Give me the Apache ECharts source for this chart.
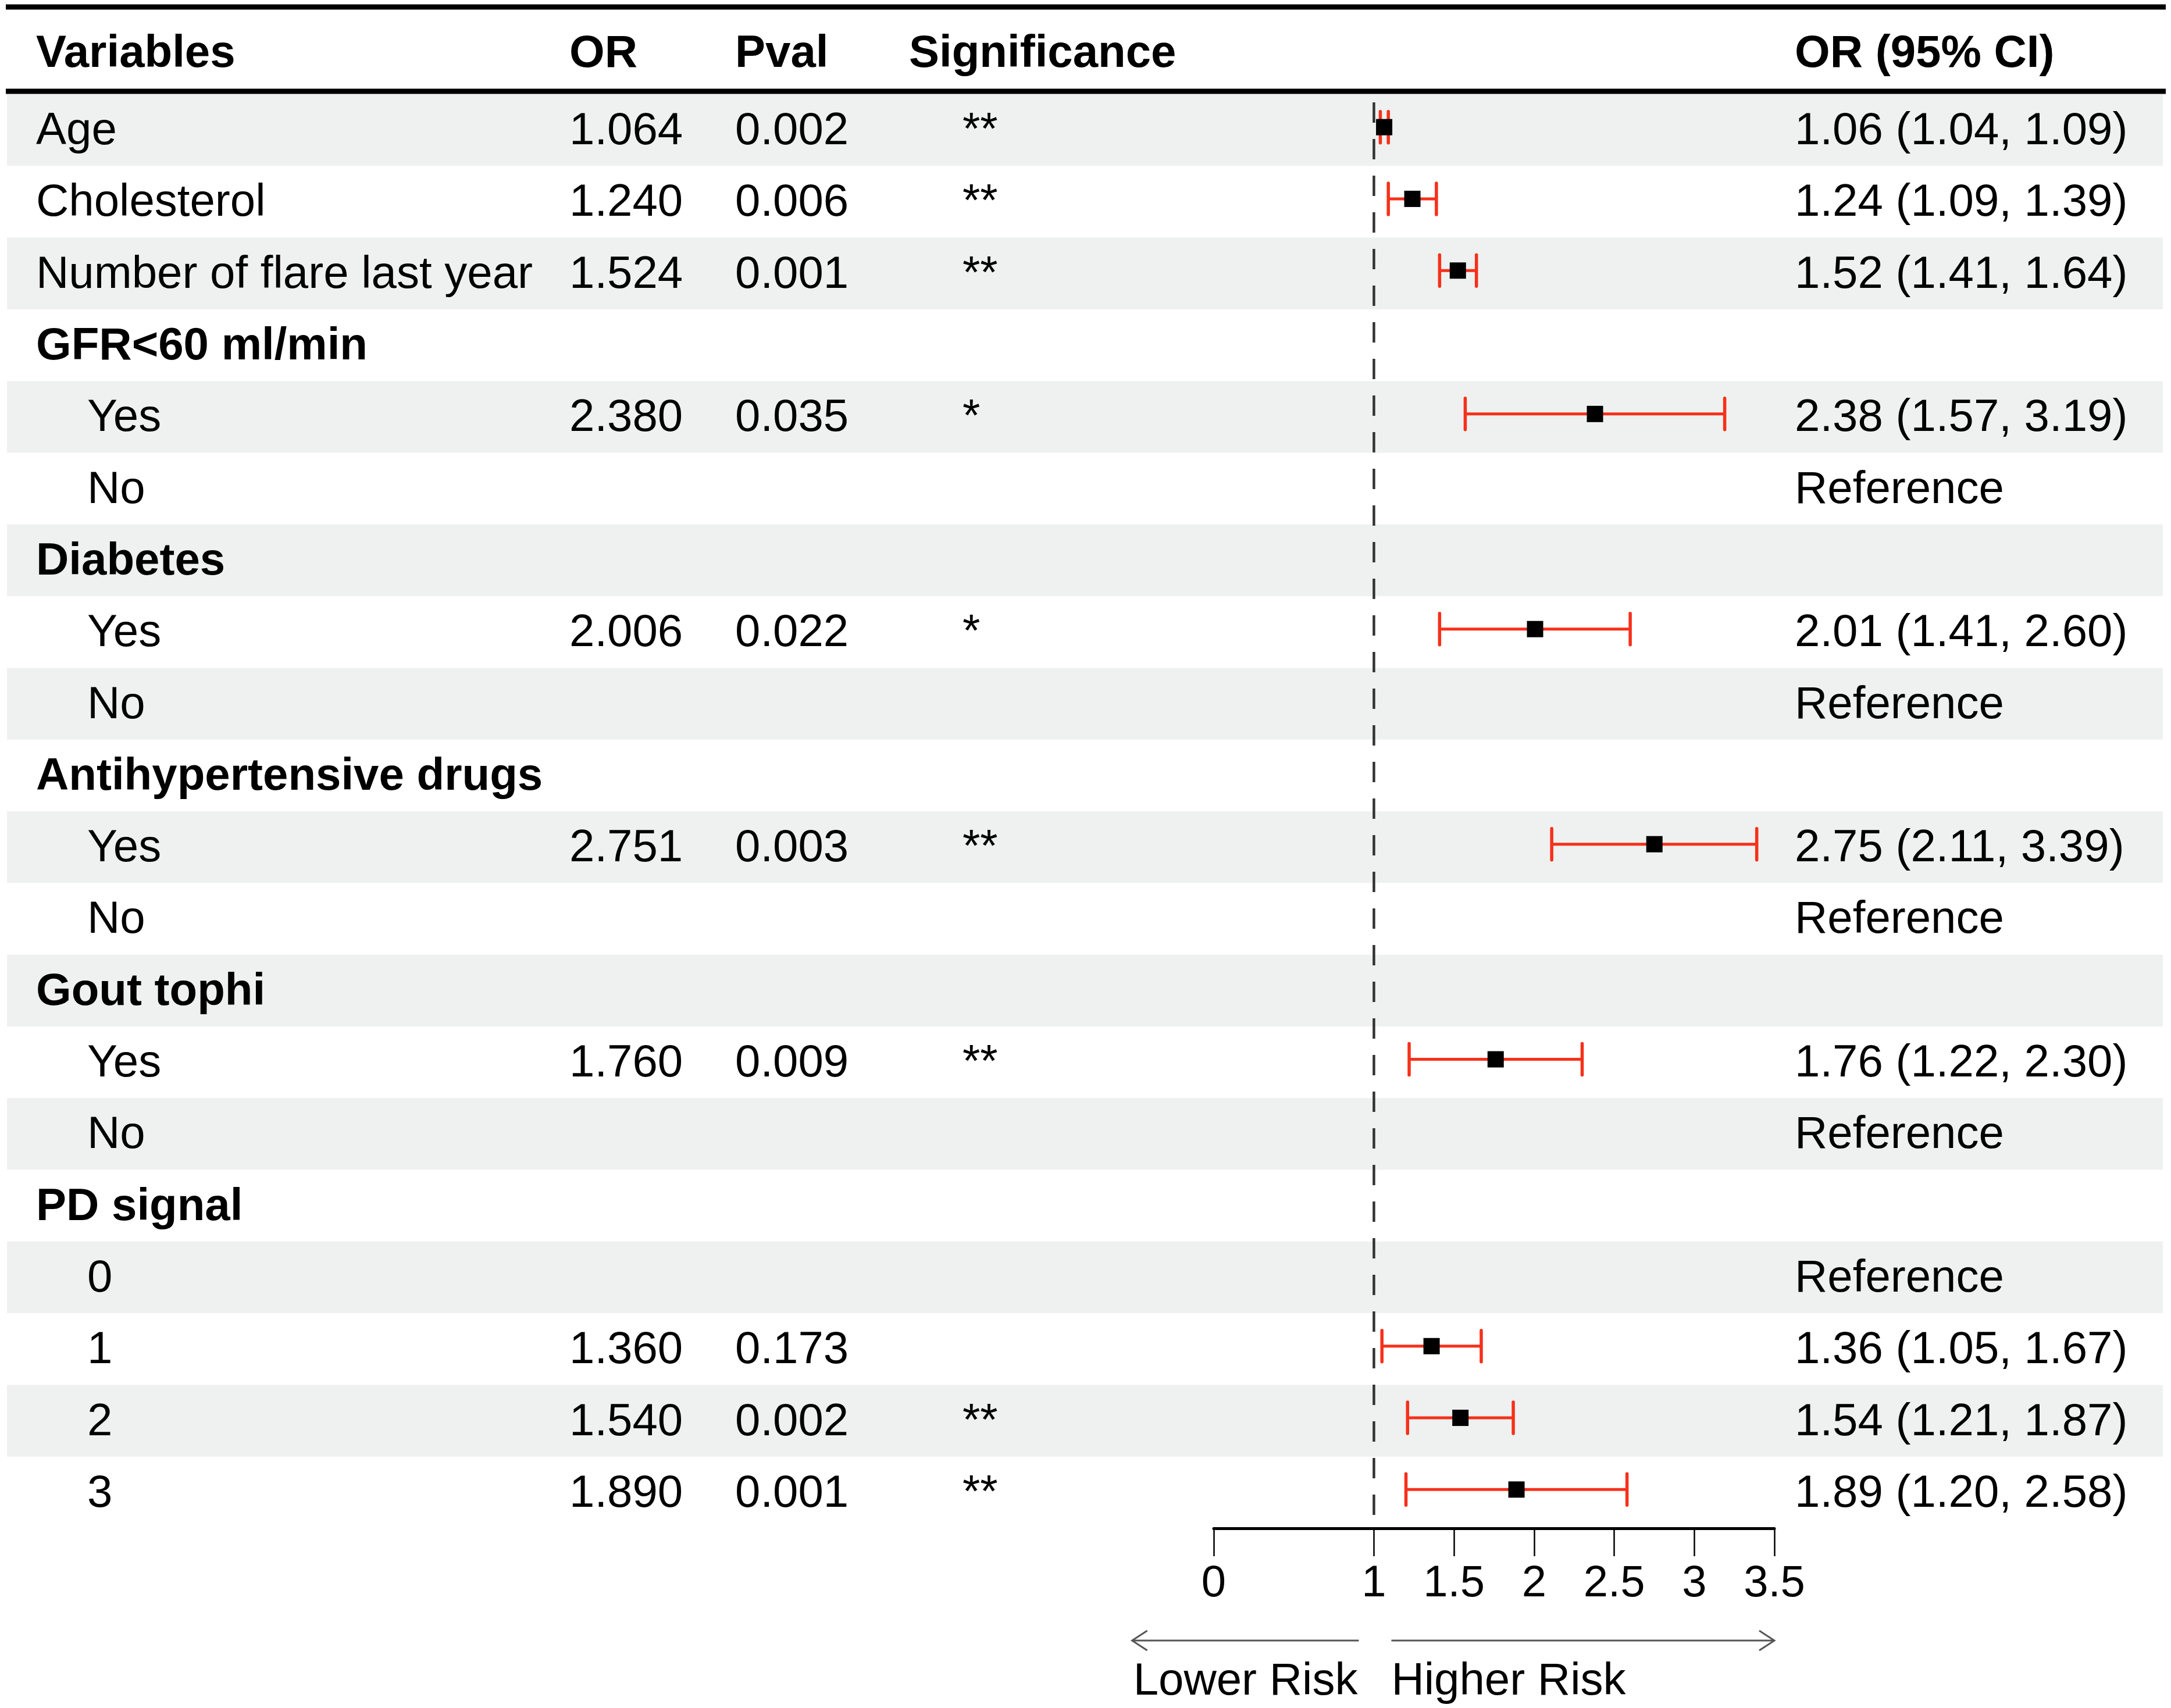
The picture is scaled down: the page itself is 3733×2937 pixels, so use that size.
<!DOCTYPE html>
<html>
<head>
<meta charset="utf-8">
<title>Forest plot</title>
<script src="https://cdn.jsdelivr.net/npm/echarts@6/dist/echarts.min.js"></script>
<style>
  html, body { margin: 0; padding: 0; background: #fff; }
  #chart { width: 3733px; height: 2937px; }
</style>
</head>
<body>
<div id="chart"></div>
<script>
// rows of the table, top to bottom
const rowLabels = ['Age', 'Cholesterol', 'Number of flare last year', 'GFR<60 ml/min', 'Yes', 'No',
  'Diabetes', 'Yes', 'No', 'Antihypertensive drugs', 'Yes', 'No', 'Gout tophi', 'Yes', 'No',
  'PD signal', '0', '1', '2', '3'];
// 0 = single variable, 1 = group title (bold), 2 = level inside a group
const rowLevel = [0, 0, 0, 1, 2, 2, 1, 2, 2, 1, 2, 2, 1, 2, 2, 1, 2, 2, 2, 2];
const orValues = [1.064, 1.240, 1.524, null, 2.380, null, null, 2.006, null, null, 2.751, null,
  null, 1.760, null, null, null, 1.360, 1.540, 1.890];
const pValues = [0.002, 0.006, 0.001, null, 0.035, null, null, 0.022, null, null, 0.003, null,
  null, 0.009, null, null, null, 0.173, 0.002, 0.001];
const significance = ['**', '**', '**', '', '*', '', '', '*', '', '', '**', '', '', '**', '', '',
  '', '', '**', '**'];
const ciLower = [1.04, 1.09, 1.41, null, 1.57, null, null, 1.41, null, null, 2.11, null,
  null, 1.22, null, null, null, 1.05, 1.21, 1.20];
const ciUpper = [1.09, 1.39, 1.64, null, 3.19, null, null, 2.60, null, null, 3.39, null,
  null, 2.30, null, null, null, 1.67, 1.87, 2.58];
const isReference = [false, false, false, false, false, true, false, false, true, false, false, true,
  false, false, true, false, true, false, false, false];

const headerLabels = ['Variables', 'OR', 'Pval', 'Significance', 'OR (95% CI)'];
const xTicks = [0, 1, 1.5, 2, 2.5, 3, 3.5];
const refValue = 1;
const arrowLabels = ['Lower Risk', 'Higher Risk'];

// layout (page pixels)
const FONT = '"Liberation Sans", Arial, Helvetica, sans-serif';
const FS = 78;
const TOP = 162, ROWS_H = 2466;
const TABLE_L = 12, TABLE_R = 3719;
const COL_X = { label: 62, indent: 150, or: 979, pval: 1264, sig: 1655, sigHead: 1563, ci: 3086 };
const FOREST_L = 2087, FOREST_W = 964;
const RED = '#f7301a', SHADE = '#eef1f0';
const TEXT_DY = 3;

const rowIdx = rowLabels.map((_, i) => i);

function ciText(i) {
  if (isReference[i]) return 'Reference';
  if (orValues[i] == null) return '';
  return orValues[i].toFixed(2) + ' (' + ciLower[i].toFixed(2) + ', ' + ciUpper[i].toFixed(2) + ')';
}

function txt(text, x, y, opts) {
  return {
    type: 'text',
    silent: true,
    style: Object.assign({
      text: text, x: x, y: y, fill: '#000', fontSize: FS, fontFamily: FONT,
      align: 'left', verticalAlign: 'middle'
    }, opts || {})
  };
}

// width of a label, for the arrows below the axis
const measureCtx = document.createElement('canvas').getContext('2d');
function textWidth(s) {
  measureCtx.font = FS + 'px ' + FONT;
  return measureCtx.measureText(s).width;
}

const catAxis = (gridIndex) => ({
  type: 'category', gridIndex: gridIndex, data: rowIdx.map(String), inverse: true, show: false
});

const headerX = [COL_X.label, COL_X.or, COL_X.pval, COL_X.sigHead, COL_X.ci];

const option = {
  animation: false,
  backgroundColor: '#fff',
  grid: [
    { left: TABLE_L, width: TABLE_R - TABLE_L, top: TOP, height: ROWS_H, outerBoundsMode: 'none' },
    { left: FOREST_L, width: FOREST_W, top: TOP, height: ROWS_H, outerBoundsMode: 'none' }
  ],
  xAxis: [
    { type: 'value', gridIndex: 0, min: 0, max: 1, show: false },
    {
      type: 'value', gridIndex: 1, min: 0, max: 3.5, interval: 0.5, position: 'bottom',
      axisLine: { show: true, onZero: false, lineStyle: { color: '#000', width: 5 } },
      axisTick: { show: true, customValues: xTicks, length: 48, inside: false, lineStyle: { color: '#000', width: 2.5 } },
      axisLabel: { show: true, customValues: xTicks, margin: 58, color: '#000', fontSize: 76, fontFamily: FONT },
      splitLine: { show: false }
    }
  ],
  yAxis: [catAxis(0), catAxis(1)],
  graphic: [
    { type: 'line', silent: true, shape: { x1: 10, y1: 12, x2: 3724, y2: 12 }, style: { stroke: '#000', lineWidth: 9 } },
    { type: 'line', silent: true, shape: { x1: 10, y1: 157, x2: 3724, y2: 157 }, style: { stroke: '#000', lineWidth: 9 } }
  ].concat(headerLabels.map((t, k) => ({
    type: 'text', silent: true, x: headerX[k], y: 93,
    style: { text: t, fill: '#000', fontSize: FS, fontWeight: 'bold', fontFamily: FONT, align: 'left', verticalAlign: 'middle' }
  }))),
  series: [
    {
      // alternating row shading
      type: 'custom', name: 'bands', xAxisIndex: 0, yAxisIndex: 0, z: 1,
      data: rowIdx.map(i => [0, i]),
      renderItem: function (params, api) {
        const row = api.value(1);
        if (row % 2) return null;
        const a = api.coord([0, row]);
        const b = api.coord([1, row]);
        const h = api.size([0, 1])[1];
        return {
          type: 'rect', silent: true,
          shape: { x: a[0], y: a[1] - h / 2, width: b[0] - a[0], height: h },
          style: { fill: SHADE }
        };
      }
    },
    {
      // table text columns
      type: 'custom', name: 'table', xAxisIndex: 0, yAxisIndex: 0, z: 3,
      data: rowIdx.map(i => [0, i]),
      renderItem: function (params, api) {
        const i = api.value(1);
        const y = api.coord([0, i])[1] + TEXT_DY;
        const kids = [];
        const lx = rowLevel[i] === 2 ? COL_X.indent : COL_X.label;
        kids.push(txt(rowLabels[i], lx, y, rowLevel[i] === 1 ? { fontWeight: 'bold' } : null));
        if (orValues[i] != null) kids.push(txt(orValues[i].toFixed(3), COL_X.or, y));
        if (pValues[i] != null) kids.push(txt(pValues[i].toFixed(3), COL_X.pval, y));
        if (significance[i]) kids.push(txt(significance[i], COL_X.sig, y));
        const ct = ciText(i);
        if (ct) kids.push(txt(ct, COL_X.ci, y));
        return { type: 'group', children: kids };
      }
    },
    {
      // dashed reference line at OR = 1
      type: 'custom', name: 'ref', xAxisIndex: 1, yAxisIndex: 1, z: 2,
      data: [[refValue, 0]],
      renderItem: function (params, api) {
        const h = api.size([0, 1])[1];
        const top = api.coord([api.value(0), 0]);
        const bot = api.coord([api.value(0), rowLabels.length - 1]);
        return {
          type: 'line', silent: true,
          shape: { x1: top[0], y1: top[1] - h / 2 + 14, x2: bot[0], y2: bot[1] + h / 2 - 20 },
          style: { stroke: '#333', lineWidth: 4.5, lineDash: [35, 28] }
        };
      }
    },
    {
      // confidence intervals and point estimates
      type: 'custom', name: 'ci', xAxisIndex: 1, yAxisIndex: 1, z: 4,
      encode: { x: [0, 2, 3], y: 1 },
      data: rowIdx.filter(i => orValues[i] != null).map(i => [orValues[i], i, ciLower[i], ciUpper[i]]),
      renderItem: function (params, api) {
        const row = api.value(1);
        const p = api.coord([api.value(0), row]);
        const lo = api.coord([api.value(2), row]);
        const hi = api.coord([api.value(3), row]);
        const y = p[1] - 5;
        const cap = 27, sq = 28;
        return {
          type: 'group',
          children: [
            { type: 'line', shape: { x1: lo[0], y1: y, x2: hi[0], y2: y }, style: { stroke: RED, lineWidth: 5 } },
            { type: 'line', shape: { x1: lo[0], y1: y - cap, x2: lo[0], y2: y + cap }, style: { stroke: RED, lineWidth: 5.5, lineCap: 'round' } },
            { type: 'line', shape: { x1: hi[0], y1: y - cap, x2: hi[0], y2: y + cap }, style: { stroke: RED, lineWidth: 5.5, lineCap: 'round' } },
            { type: 'rect', shape: { x: p[0] - sq / 2, y: y - sq / 2, width: sq, height: sq }, style: { fill: '#000' } }
          ]
        };
      }
    },
    {
      // direction arrows under the axis
      type: 'custom', name: 'arrows', xAxisIndex: 1, yAxisIndex: 1, z: 3,
      data: [[refValue, rowLabels.length - 1]],
      renderItem: function (params, api) {
        const h = api.size([0, 1])[1];
        const ref = api.coord([api.value(0), api.value(1)]);
        const xMax = api.coord([xTicks[xTicks.length - 1], api.value(1)])[0];
        const bottom = ref[1] + h / 2;
        const yA = bottom + 193, yT = bottom + 264;
        const lw = textWidth(arrowLabels[0]);
        const lRight = ref[0] - 26, lLeft = lRight - lw - 4;
        const rLeft = ref[0] + 30;
        const stroke = { stroke: '#555', lineWidth: 3 };
        return {
          type: 'group',
          children: [
            { type: 'line', shape: { x1: lLeft, y1: yA, x2: lRight, y2: yA }, style: stroke },
            { type: 'polyline', shape: { points: [[lLeft + 26, yA - 17], [lLeft, yA], [lLeft + 26, yA + 17]] }, style: Object.assign({ fill: null }, stroke) },
            { type: 'line', shape: { x1: rLeft, y1: yA, x2: xMax, y2: yA }, style: stroke },
            { type: 'polyline', shape: { points: [[xMax - 26, yA - 17], [xMax, yA], [xMax - 26, yA + 17]] }, style: Object.assign({ fill: null }, stroke) },
            txt(arrowLabels[0], lRight - 2, yT, { align: 'right' }),
            txt(arrowLabels[1], rLeft, yT)
          ]
        };
      }
    }
  ]
};

const chart = echarts.init(document.getElementById('chart'));
chart.setOption(option);
</script>
</body>
</html>
